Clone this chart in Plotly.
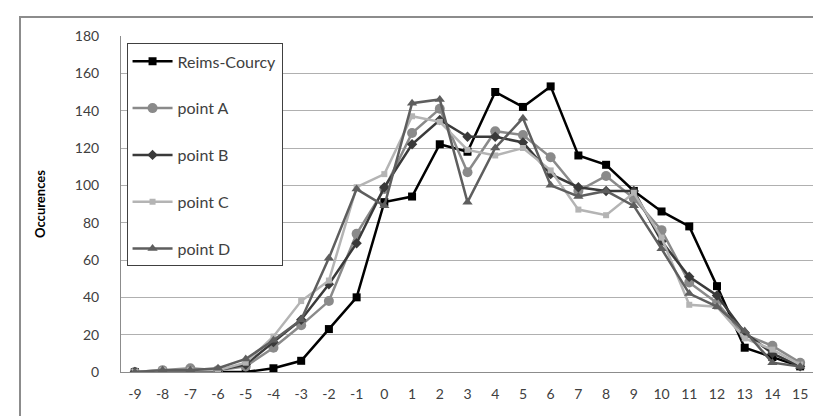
import plotly.graph_objects as go

categories = list(range(-9, 16))
reims = [0, 0, 0, 0, 0, 2, 6, 23, 40, 91, 94, 122, 118, 150, 142, 153, 116, 111, 97, 86, 78, 46, 13, 8, 3]
point_a = [0, 1, 2, 1, 3, 13, 25, 38, 74, 98, 128, 141, 107, 129, 127, 115, 97, 105, 93, 76, 48, 37, 20, 14, 5]
point_b = [0, 0, 0, 1, 4, 16, 28, 47, 69, 99, 122, 135, 126, 126, 123, 106, 99, 97, 97, 70, 51, 41, 21, 10, 3]
point_c = [0, 1, 1, 1, 5, 19, 38, 49, 99, 106, 137, 134, 119, 116, 120, 108, 87, 84, 96, 72, 36, 35, 18, 12, 4]
point_d = [0, 1, 1, 2, 7, 17, 28, 61, 98, 89, 144, 146, 91, 120, 136, 100, 94, 97, 89, 66, 42, 35, 22, 5, 3]
y_ticks = [0, 20, 40, 60, 80, 100, 120, 140, 160, 180]

series = [
    ("Reims-Courcy", reims, "#000000", "square", 8),
    ("point A", point_a, "#8a8a8a", "circle", 10),
    ("point B", point_b, "#3a3a3a", "diamond", 8),
    ("point C", point_c, "#b4b4b4", "square", 6),
    ("point D", point_d, "#5e5e5e", "triangle-up", 9),
]

fig = go.Figure()
for name, vals, color, sym, size in series:
    fig.add_trace(go.Scatter(
        x=categories, y=vals, name=name, mode="lines+markers",
        line=dict(color=color, width=2.5),
        marker=dict(symbol=sym, size=size, color=color),
        legendgroup=name,
    ))

fig.update_layout(
    width=821, height=416,
    margin=dict(l=113, r=15, t=28, b=52),
    paper_bgcolor="white", plot_bgcolor="white",
    font=dict(family="Lato, Open Sans, sans-serif", size=13, color="#404040"),
    showlegend=True,
    legend=dict(
        x=0.008, y=0.978, xanchor="left", yanchor="top",
        bgcolor="white", bordercolor="#404040", borderwidth=1,
        font=dict(size=16, color="#404040"),
        tracegroupgap=23, traceorder="grouped",
        itemwidth=40,
    ),
    xaxis=dict(
        range=[-9.5, 15.5], tickmode="array", tickvals=categories,
        ticktext=[str(c) for c in categories],
        showgrid=False, zeroline=False,
        showline=True, linecolor="#8c8c8c", linewidth=1,
        ticks="", ticklabelstandoff=9,
        tickfont=dict(size=14, color="#404040"),
    ),
    yaxis=dict(
        range=[0, 180], tickmode="array", tickvals=y_ticks,
        showgrid=True, gridcolor="#b0b0b0", gridwidth=1,
        zeroline=False, showline=True, linecolor="#8c8c8c", linewidth=1,
        ticks="", ticklabelstandoff=18,
        tickfont=dict(size=14, color="#404040"),
        title=dict(text="<b>Occurences</b>", font=dict(size=13, color="#000000"), standoff=26),
    ),
    shapes=[dict(
        type="rect", xref="paper", yref="paper",
        x0=(12 - 113) / 693, x1=(815 - 113) / 693,
        y0=(364.5 - 420) / 336.5, y1=(364.5 - 9) / 336.5,
        line=dict(color="#8c8c8c", width=2), fillcolor="rgba(0,0,0,0)",
        layer="below",
    )],
)

fig.write_html("out.html")
